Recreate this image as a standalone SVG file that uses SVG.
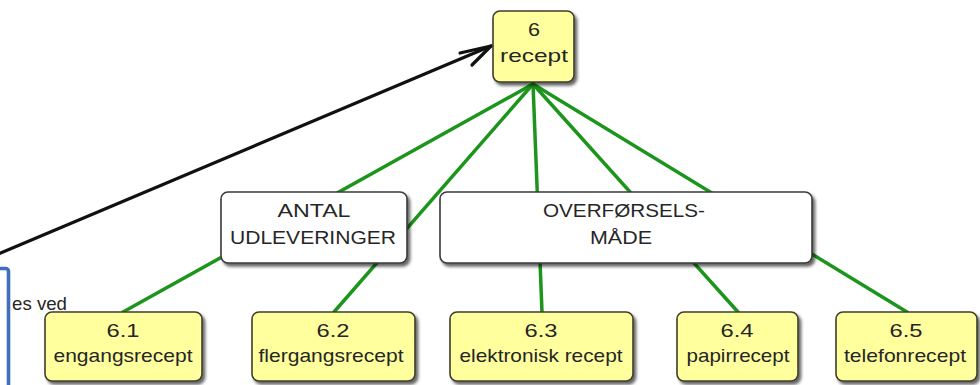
<svg xmlns="http://www.w3.org/2000/svg" width="980" height="385" viewBox="0 0 980 385">
  <defs>
    <filter id="shadow" x="-10%" y="-10%" width="130%" height="140%">
      <feDropShadow dx="2.5" dy="3" stdDeviation="1.8" flood-color="#000" flood-opacity="0.6"/>
    </filter>
  </defs>
  <style>
    .box { fill: #ffff9e; stroke: #3e3e2a; stroke-width: 1.6; filter: url(#shadow); }
    .group { fill: #ffffff; stroke: #3a3a3a; stroke-width: 1.6; filter: url(#shadow); }
    .t { font-family: "Liberation Sans", Arial, sans-serif; font-size: 19px; fill: #262626; text-anchor: middle; }
    .edge { stroke: #1c951c; stroke-width: 3.5; fill: none; stroke-linecap: round; }
    .link { stroke: #111; stroke-width: 3.2; fill: none; stroke-linecap: round; stroke-linejoin: round; }
  </style>

  <rect width="980" height="385" fill="#ffffff"/>

  <!-- side panel fragment at the left edge -->
  <rect x="-20" y="268.5" width="28.5" height="140" rx="3" fill="none" stroke="#3f6fba" stroke-width="3.6"/>
  <text x="12" y="310" class="t" style="text-anchor:start" textLength="55" lengthAdjust="spacingAndGlyphs">es ved</text>

  <!-- connectors -->
  <g id="connectors">
    <line class="edge" x1="533" y1="84" x2="123" y2="312"/>
    <line class="edge" x1="533" y1="84" x2="334" y2="312"/>
    <line class="edge" x1="533" y1="84" x2="542" y2="312"/>
    <line class="edge" x1="533" y1="84" x2="738" y2="312"/>
    <line class="edge" x1="533" y1="84" x2="907" y2="312"/>
    <!-- incoming reference arrow -->
    <line class="link" x1="-2" y1="254" x2="491" y2="46"/>
    <polyline class="link" points="460,53 491,46 472,65"/>
  </g>

  <!-- grouping labels -->
  <g id="antal">
    <rect class="group" x="221" y="192" width="186" height="71" rx="7"/>
    <text class="t" x="314" y="217" textLength="73" lengthAdjust="spacingAndGlyphs">ANTAL</text>
    <text class="t" x="313" y="244" textLength="166" lengthAdjust="spacingAndGlyphs">UDLEVERINGER</text>
  </g>
  <g id="overfoersel">
    <rect class="group" x="440" y="192" width="372" height="71" rx="7"/>
    <text class="t" x="624" y="217" textLength="162" lengthAdjust="spacingAndGlyphs">OVERFØRSELS-</text>
    <text class="t" x="621" y="244" textLength="62" lengthAdjust="spacingAndGlyphs">MÅDE</text>
  </g>

  <!-- nodes -->
  <g id="n6">
    <rect class="box" x="493" y="11" width="81" height="71" rx="7"/>
    <text class="t" x="534" y="36" textLength="12" lengthAdjust="spacingAndGlyphs">6</text>
    <text class="t" x="534" y="62" textLength="68" lengthAdjust="spacingAndGlyphs">recept</text>
  </g>
  <g id="n6-1">
    <rect class="box" x="45" y="312" width="157" height="69" rx="7"/>
    <text class="t" x="123" y="337" textLength="33" lengthAdjust="spacingAndGlyphs">6.1</text>
    <text class="t" x="123" y="362" textLength="139" lengthAdjust="spacingAndGlyphs">engangsrecept</text>
  </g>
  <g id="n6-2">
    <rect class="box" x="252" y="312" width="163" height="69" rx="7"/>
    <text class="t" x="333" y="337" textLength="33" lengthAdjust="spacingAndGlyphs">6.2</text>
    <text class="t" x="331" y="362" textLength="145" lengthAdjust="spacingAndGlyphs">flergangsrecept</text>
  </g>
  <g id="n6-3">
    <rect class="box" x="450" y="312" width="183" height="69" rx="7"/>
    <text class="t" x="541" y="337" textLength="33" lengthAdjust="spacingAndGlyphs">6.3</text>
    <text class="t" x="541" y="362" textLength="163" lengthAdjust="spacingAndGlyphs">elektronisk recept</text>
  </g>
  <g id="n6-4">
    <rect class="box" x="677" y="312" width="121" height="69" rx="7"/>
    <text class="t" x="737" y="337" textLength="33" lengthAdjust="spacingAndGlyphs">6.4</text>
    <text class="t" x="738" y="362" textLength="103" lengthAdjust="spacingAndGlyphs">papirrecept</text>
  </g>
  <g id="n6-5">
    <rect class="box" x="836" y="312" width="141" height="69" rx="7"/>
    <text class="t" x="906" y="337" textLength="33" lengthAdjust="spacingAndGlyphs">6.5</text>
    <text class="t" x="905" y="362" textLength="122" lengthAdjust="spacingAndGlyphs">telefonrecept</text>
  </g>
</svg>
